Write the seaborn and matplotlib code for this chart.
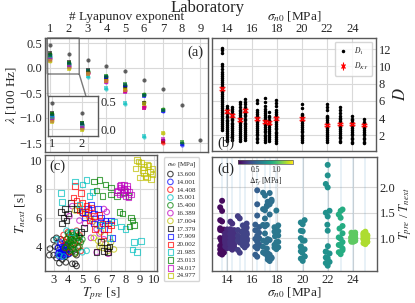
import warnings
import numpy as np
import pandas as pd
import matplotlib
matplotlib.use("Agg")
import matplotlib.pyplot as plt
from matplotlib.colors import Normalize
from matplotlib.lines import Line2D
import seaborn as sns

warnings.filterwarnings("ignore")

sns.set_style("whitegrid")
plt.rcParams['font.family'] = ['Liberation Serif', 'DejaVu Serif']
plt.rcParams['mathtext.fontset'] = 'stix'
plt.rcParams['font.size'] = 9.5
plt.rcParams['xtick.labelsize'] = 9
plt.rcParams['ytick.labelsize'] = 9
plt.rcParams['xtick.major.size'] = 0
plt.rcParams['ytick.major.size'] = 0
plt.rcParams['axes.edgecolor'] = '0.35'
plt.rcParams['axes.linewidth'] = 1.0
plt.rcParams['grid.color'] = '0.85'
plt.rcParams['grid.linewidth'] = 0.8

# experiments (normal stress, MPa)
sigma = [13.600, 14.001, 14.408, 15.001, 15.400, 16.389, 17.004,
         17.379, 17.909, 20.002, 21.985, 23.013, 24.017, 24.977]
colors = ['k', 'b', 'r', 'c', 'g', 'm', 'y'] * 2
markers = ['o'] * 7 + ['s'] * 7
dtau = [0.14, 0.25, 0.28, 0.33, 0.36, 0.49, 0.58,
        0.57, 0.62, 0.69, 0.75, 0.9, 1.08, 1.24]

# (a) Lyapunov spectra
lyap = [
    [0.47, 0.29, 0.16, 0.05, -0.06, -0.23, -0.42, -0.73, -1.43],
    [0.25, 0.08, -0.08, -0.18, -0.36, -0.54, -0.86, -1.54],
    [0.20, 0.05, -0.10, -0.24, -0.44, -0.76, -1.49],
    [0.22, 0.06, -0.18, -0.41, -0.72, -1.37],
    [0.28, 0.10, -0.06, -0.16, -0.33, -0.52, -0.82, -1.50],
    [0.18, 0.03, -0.10, -0.27, -0.45, -0.78, -1.43],
    [0.15, 0.00, -0.08, -0.22, -0.40, -0.68, -1.29],
    [0.30, 0.12, -0.04, -0.20, -0.38, -0.70, -1.45],
    [0.24, 0.09, -0.05, -0.17, -0.34, -0.55, -0.85, -1.52],
    [0.19, 0.04, -0.09, -0.25, -0.46, -0.80, -1.47],
    [0.20, 0.05, -0.15, -0.40, -0.70, -1.36],
    [0.27, 0.11, -0.05, -0.15, -0.32, -0.53, -0.83, -1.48],
    [0.16, 0.02, -0.11, -0.28, -0.47, -0.79, -1.42],
    [0.14, -0.02, -0.12, -0.26, -0.43, -0.72, -1.30],
]

# (b) correlation dimension D1 per experiment and Kaplan-Yorke dimension
D1 = [
    [2.6, 2.85, 3.1, 3.3, 3.55, 3.8, 4.0, 4.25, 4.5, 4.7, 4.95, 5.2, 5.4, 5.65, 5.9, 6.1,
     6.35, 6.6, 6.8, 7.05, 7.3, 7.5, 7.75, 8.0, 8.2, 8.45, 8.7, 8.9, 9.15, 9.4,
     9.75, 10.05, 10.3, 11.6, 11.9, 12.15],
    [1.4, 1.6, 1.85, 2.05, 2.3, 2.5, 2.75, 2.95, 3.2, 3.4, 3.65, 3.85, 4.1, 4.3, 4.55, 4.75, 5.0, 5.2, 5.45],
    [1.5, 1.7, 1.95, 2.15, 2.4, 2.6, 2.85, 3.05, 3.3, 3.5, 3.75, 3.95, 4.2, 4.4, 4.65, 4.85, 5.1, 5.3],
    [1.4, 1.6, 1.85, 2.1, 2.3, 2.55, 2.75, 3.0, 3.2, 3.45, 3.65, 3.9, 4.1, 4.35, 4.55, 4.8, 5.0, 5.3, 5.6, 5.9],
    [1.5, 1.7, 1.95, 2.15, 2.4, 2.6, 2.85, 3.05, 3.3, 3.5, 3.75, 3.95, 4.2, 4.4, 4.65, 4.85, 5.1, 5.3, 5.6, 5.9, 6.2],
    [1.3, 1.55, 1.75, 2.0, 2.2, 2.45, 2.65, 2.9, 3.1, 3.35, 3.55, 3.8, 4.0, 4.25, 4.45, 4.7, 4.9, 5.8, 6.1],
    [1.2, 1.45, 1.65, 1.9, 2.1, 2.35, 2.55, 2.8, 3.0, 3.25, 3.45, 3.7, 3.9, 4.15, 4.35, 4.6, 4.8, 5.1, 5.4, 5.9, 6.35],
    [1.4, 1.6, 1.85, 2.05, 2.3, 2.5, 2.75, 2.95, 3.2, 3.4, 3.65, 3.85, 4.1, 4.3, 4.7],
    [1.1, 1.35, 1.55, 1.8, 2.0, 2.25, 2.45, 2.7, 2.9, 3.15, 3.35, 3.6, 3.8, 4.05, 4.25, 4.5, 4.7, 4.9, 5.4, 5.8, 6.1],
    [1.2, 1.45, 1.65, 1.9, 2.1, 2.35, 2.55, 2.8, 3.0, 3.25, 3.45, 3.7, 3.9, 4.15, 4.35, 4.5, 5.2, 5.6],
    [1.3, 1.5, 1.75, 1.95, 2.2, 2.4, 2.65, 2.85, 3.1, 3.3, 3.55, 3.75, 4.0, 4.15, 4.3, 4.9, 5.3, 5.6],
    [1.2, 1.4, 1.65, 1.85, 2.1, 2.3, 2.55, 2.75, 3.0, 3.2, 3.45, 3.65, 3.9, 4.05, 4.2, 4.6, 4.9, 5.3],
    [1.1, 1.3, 1.55, 1.75, 2.0, 2.2, 2.45, 2.65, 2.9, 3.1, 3.35, 3.55, 3.75, 3.9, 4.2],
    [1.1, 1.3, 1.55, 1.75, 2.0, 2.2, 2.45, 2.65, 2.9, 3.1, 3.3, 3.45, 3.6, 3.9],
]
DKY = [7.43, 4.8, 4.33, 3.83, 4.9, 3.94, 3.6, 3.5, 4.0, 3.94, 3.24, 3.36, 3.35, 3.24]
DKY_err = [0.18, 0.16, 0.15, 0.16, 0.17, 0.15, 0.15, 0.14, 0.15, 0.17, 0.13, 0.14, 0.14, 0.13]

# (c) recurrence times: preceding and next interval
T_pre = [
    [2.7, 2.75, 3.0, 3.2, 3.0, 3.3, 3.4, 3.6, 3.85, 4.3, 4.5, 3.5, 3.8, 4.0, 3.2, 3.7, 4.2, 4.6, 3.1, 3.9, 3.5, 4.6],
    [3.3, 3.4, 3.5, 3.6, 3.7, 3.8, 3.9, 3.5, 3.6, 3.7, 3.4, 3.8, 4.0, 3.3, 3.6, 3.9, 3.5, 3.7, 4.1, 3.45, 3.65, 3.85, 3.55, 3.75, 3.95],
    [3.7, 4.0, 4.3, 4.6, 4.8, 3.9, 4.2, 4.5, 4.4, 4.1, 3.8, 4.7, 4.9, 4.0, 4.3, 4.6, 3.6, 4.5, 4.2, 4.8],
    [3.9, 4.6, 4.2, 5.0, 3.4, 3.2, 4.4, 3.7, 4.8, 5.3],
    [3.9, 4.1, 4.3, 4.5, 4.7, 4.0, 4.2, 4.4, 4.6, 4.8, 3.8, 4.1, 4.3, 4.5, 4.9, 4.0, 4.2, 4.4, 4.6, 4.3, 4.7, 3.9, 4.5, 4.2, 4.8, 5.0, 4.4, 4.1],
    [4.1, 5.0, 5.4, 5.7, 6.0, 6.2, 6.5, 6.0, 6.8, 5.5, 6.5, 6.7, 4.3, 5.2, 4.8, 5.9, 6.3, 5.6],
    [4.5, 5.0, 5.6, 6.0, 6.3, 5.8, 6.6, 6.2, 7.0, 6.4, 5.5, 4.8, 6.9, 5.3, 6.1, 7.2, 6.8],
    [3.5, 3.8, 4.2, 3.6, 3.7, 4.6, 4.9, 5.1, 6.5, 6.7, 6.9, 6.3, 6.0, 6.8, 4.0, 3.9],
    [5.0, 5.4, 5.8, 6.1, 6.3, 6.6, 5.6, 6.2, 6.8, 7.0, 5.8, 6.5, 5.2, 7.1],
    [4.4, 4.6, 5.0, 5.3, 4.8, 5.2, 5.6, 6.2, 5.5, 6.8, 6.5, 7.0, 4.5, 5.9, 6.4, 4.9, 5.8],
    [3.5, 4.5, 3.6, 5.3, 5.7, 5.5, 4.8, 7.7, 8.0, 8.6, 8.8, 9.1, 8.5, 6.9, 6.3, 4.2, 7.2, 5.0],
    [5.8, 6.2, 6.0, 7.0, 7.4, 7.6, 7.8, 8.5, 8.6, 8.3, 6.4, 7.0, 8.2, 7.9, 8.4, 6.6],
    [7.5, 7.7, 7.9, 8.1, 8.3, 7.6, 7.8, 8.0, 8.2, 7.4, 7.9, 8.4, 7.7, 8.1, 8.0, 7.6],
    [8.7, 8.9, 9.1, 9.3, 9.5, 9.7, 9.9, 9.0, 9.2, 9.4, 9.6, 9.8, 8.8, 9.3, 9.9, 9.5],
]
T_next = [
    [3.4, 3.85, 4.45, 4.6, 3.4, 3.9, 2.85, 3.1, 2.9, 2.8, 2.8, 3.5, 3.3, 3.45, 3.2, 3.7, 3.6, 3.4, 4.0, 4.1, 4.5, 2.65],
    [3.9, 3.6, 3.8, 3.5, 3.9, 3.7, 3.6, 4.2, 4.0, 3.4, 3.3, 4.1, 3.8, 3.5, 3.3, 4.0, 3.5, 3.6, 3.5, 4.3, 3.75, 3.45, 3.65, 4.05, 3.95],
    [4.8, 5.0, 4.9, 4.7, 4.4, 4.3, 4.5, 4.2, 3.8, 3.6, 3.9, 4.0, 3.7, 4.6, 4.1, 5.1, 4.4, 3.5, 3.9, 4.8],
    [5.1, 5.05, 4.4, 3.6, 3.4, 4.5, 3.8, 3.3, 4.6, 3.7],
    [4.5, 4.8, 5.0, 4.7, 4.4, 4.2, 4.3, 4.1, 4.6, 4.0, 3.9, 3.7, 3.8, 3.6, 4.3, 4.9, 4.6, 4.4, 4.9, 4.2, 3.9, 4.0, 3.5, 4.0, 4.7, 4.5, 4.8, 4.4],
    [6.1, 6.3, 6.2, 5.7, 5.2, 4.9, 4.5, 3.6, 3.5, 6.5, 6.6, 6.4, 6.8, 5.6, 5.8, 6.0, 5.7, 4.6],
    [6.5, 6.3, 5.9, 5.5, 5.0, 4.6, 4.2, 4.0, 4.3, 3.9, 6.0, 6.7, 5.6, 6.4, 4.4, 3.8, 3.7],
    [6.4, 6.6, 7.0, 5.6, 6.0, 6.6, 5.0, 5.3, 3.7, 3.9, 4.0, 4.3, 3.6, 3.6, 6.3, 5.8],
    [6.4, 6.6, 6.3, 6.6, 6.0, 5.8, 6.9, 5.5, 5.6, 5.8, 5.6, 5.2, 6.0, 4.6],
    [7.4, 7.2, 7.0, 6.8, 6.5, 6.3, 6.7, 6.2, 5.8, 5.2, 4.8, 5.5, 8.2, 5.2, 5.6, 7.7, 6.1],
    [7.7, 8.5, 7.1, 8.6, 7.8, 7.5, 6.9, 5.4, 5.2, 4.3, 3.6, 4.4, 3.8, 4.6, 5.5, 5.0, 5.7, 8.3],
    [8.5, 8.6, 7.9, 8.1, 7.5, 6.4, 6.3, 5.8, 5.5, 5.4, 7.5, 7.6, 7.5, 7.8, 6.0, 8.3],
    [7.9, 8.1, 8.3, 8.0, 7.8, 7.6, 7.7, 7.5, 7.4, 7.8, 8.0, 7.6, 8.3, 8.2, 7.9, 8.2],
    [9.4, 9.9, 9.8, 9.5, 9.7, 9.2, 9.0, 8.8, 9.3, 8.9, 9.6, 8.7, 10.0, 9.1, 9.4, 8.8],
]

fig = plt.figure(figsize=(4.15, 3.03), dpi=100)
W, H = 415, 303
ax_a = fig.add_axes([45 / W, 1 - 152 / H, 163 / W, 114 / H])
ax_b = fig.add_axes([212 / W, 1 - 151 / H, 164 / W, 113 / H])
ax_c = fig.add_axes([45 / W, 1 - 271 / H, 112 / W, 116 / H])
ax_d = fig.add_axes([212 / W, 1 - 271 / H, 165 / W, 114 / H])

fig.text(0.5, 1 - 8 / H, "Laboratory", ha='center', va='center', fontsize=12)

# ---- (a)
axins = ax_a.inset_axes([0.018, 0.14, 0.307, 0.35])
for i, lam in enumerate(lyap):
    idx = np.arange(1, len(lam) + 1)
    for a in (ax_a, axins):
        a.scatter(idx, lam, marker=markers[i], color=colors[i], s=9, alpha=0.6, lw=0)
ax_a.set_xlim(0.73, 9.4)
ax_a.set_ylim(-1.68, 0.6)
ax_a.set_xticks(range(1, 10))
ax_a.set_yticks([-1.5, -1.0, -0.5, 0.0, 0.5])
ax_a.xaxis.tick_top()
ax_a.xaxis.set_label_position('top')
ax_a.set_xlabel('# Lyapunov exponent', labelpad=2.5)
ax_a.set_ylabel(r'$\lambda$ [100 Hz]', labelpad=1)
ax_a.tick_params(pad=2)
ax_a.text(0.97, 0.93, '(a)', transform=ax_a.transAxes, ha='right', va='top', fontsize=10.5)
axins.set_xlim(0.85, 2.55)
axins.set_ylim(-0.12, 0.6)
axins.set_xticks([1, 2])
axins.set_yticks([0.0, 0.5])
axins.yaxis.tick_right()
axins.tick_params(pad=1.5)
ax_a.indicate_inset_zoom(axins, edgecolor='0.35', alpha=0.8)

# ---- (b)
for s, d in zip(sigma, D1):
    ax_b.plot([s] * len(d), d, 'k.', ms=3)
ax_b.errorbar(sigma, DKY, yerr=DKY_err, fmt='x', color='red', ms=3, capsize=2.5,
              elinewidth=0.8, alpha=0.8)
ax_b.set_xlim(12.8, 25.9)
ax_b.set_ylim(0.2, 13.3)
ax_b.set_xticks(range(14, 26, 2))
ax_b.set_yticks(range(2, 13, 2))
ax_b.xaxis.tick_top()
ax_b.xaxis.set_label_position('top')
ax_b.yaxis.tick_right()
ax_b.yaxis.set_label_position('right')
ax_b.set_xlabel(r'$\sigma_{n0}$ [MPa]', labelpad=2.5)
ax_b.set_ylabel(r'$D$', fontsize=12, labelpad=1)
ax_b.tick_params(pad=2)
ax_b.text(0.03, 0.01, '(b)', transform=ax_b.transAxes, ha='left', va='bottom', fontsize=10.5)
h1 = Line2D([], [], ls='', marker='.', color='k', ms=3)
h2 = ax_b.errorbar([], [], yerr=[], fmt='x', color='red', ms=3, capsize=2.5, elinewidth=0.8)
ax_b.legend([h1, h2], [r'$D_1$', r'$D_{KY}$'], loc='upper right', fontsize=5.5,
            handlelength=1.2, borderpad=0.5, labelspacing=0.5)

# ---- (c)
for i in range(len(sigma)):
    ax_c.scatter(T_pre[i], T_next[i], marker=markers[i], facecolors='none',
                 edgecolors=colors[i], s=16, linewidths=0.8, alpha=0.7,
                 label=f'{sigma[i]:.3f}')
ax_c.set_xlim(2.4, 10.2)
ax_c.set_ylim(2.3, 10.35)
ax_c.set_xticks(range(3, 11))
ax_c.set_yticks([4, 6, 8, 10])
ax_c.set_xlabel(r'$T_{pre}$ [s]', labelpad=0)
ax_c.set_ylabel(r'$T_{next}$ [s]', labelpad=1)
ax_c.tick_params(pad=2)
ax_c.text(0.04, 0.96, '(c)', transform=ax_c.transAxes, ha='left', va='top', fontsize=10.5)
ax_c.legend(title=r'$\sigma_{n0}$ [MPa]', loc='upper left', bbox_to_anchor=(1.03, 1.01),
            fontsize=5, title_fontsize=5, labelspacing=0.28, handletextpad=0.4,
            borderpad=0.4, handlelength=1.0)

# ---- (d)
rows = []
for i, s in enumerate(sigma):
    for tp, tn in zip(T_pre[i], T_next[i]):
        rows.append({'sigma': s, 'ratio': tp / tn, 'dtau': dtau[i]})
df = pd.DataFrame(rows)
for s in sigma:
    ax_d.axvspan(s - 0.07, s + 0.07, color='tab:blue', alpha=0.1, lw=0)
sns.swarmplot(data=df, x='sigma', y='ratio', hue='dtau', palette='viridis',
              hue_norm=(0.1, 1.4), native_scale=True, size=4.3, linewidth=0,
              ax=ax_d, legend=False)
ax_d.set_xlim(12.8, 25.9)
ax_d.set_ylim(0.35, 2.6)
ax_d.set_xticks(range(14, 26, 2))
ax_d.set_yticks([1.0, 1.5, 2.0])
ax_d.yaxis.tick_right()
ax_d.yaxis.set_label_position('right')
ax_d.set_xlabel(r'$\sigma_{n0}$ [MPa]', labelpad=0)
ax_d.set_ylabel(r'$T_{pre}$ / $T_{next}$', labelpad=1, fontsize=9)
ax_d.tick_params(pad=2)
ax_d.grid(True)
ax_d.text(0.03, 0.95, '(d)', transform=ax_d.transAxes, ha='left', va='top', fontsize=10.5)
cax = ax_d.inset_axes([0.158, 0.935, 0.333, 0.035])
sm = plt.cm.ScalarMappable(norm=Normalize(0.1, 1.4), cmap='viridis')
cb = fig.colorbar(sm, cax=cax, orientation='horizontal')
cb.set_ticks([0.5, 1.0])
cb.ax.tick_params(labelsize=5.5, length=0, pad=1)
cb.set_label(r'$\Delta\tau_f$ [MPa]', fontsize=5.5, labelpad=1)
cb.outline.set_linewidth(0.5)

fig.savefig('out.png', dpi=100)
